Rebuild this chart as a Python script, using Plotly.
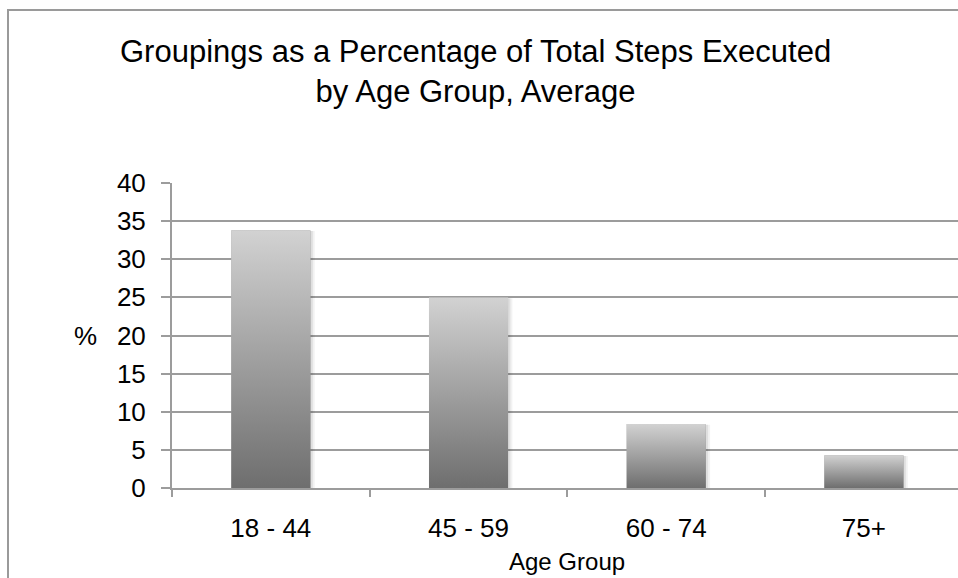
import plotly.graph_objects as go

# Average share of total steps executed, by age group (%)
age_groups = ["18 - 44", "45 - 59", "60 - 74", "75+"]
share_pct = [33.8, 25.0, 8.4, 4.3]
y_ticks = [0, 5, 10, 15, 20, 25, 30, 35, 40]

title_lines = ["Groupings as a Percentage of Total Steps Executed", "by Age Group, Average"]
x_title = "Age Group"
y_title = "%"

W, H = 958, 578
ML, MR, MT, MB = 172, 0, 183, 90
PW, PH = W - ML - MR, H - MT - MB
FONT = "Liberation Sans, Arial, sans-serif"
GRID = "#9c9c9c"
BAR_W = 0.4
X_RANGE = [-0.5, 3.476]


def px_x(px):
    return (px - ML) / PW


def px_y(py):
    return (H - MB - py) / PH


fig = go.Figure()

# Real bar trace (the gradient fill is layered on top of it)
fig.add_trace(go.Bar(
    x=age_groups, y=share_pct, width=BAR_W,
    marker=dict(color="#a2a2a2", line=dict(width=0)),
    hoverinfo="x+y", showlegend=False,
))

# Soft shadow and vertical gradient for each bar, built from the same values
for i, v in enumerate(share_pct):
    left, right = i - BAR_W / 2, i + BAR_W / 2
    for off, alpha in [(0.022, 0.05), (0.012, 0.08)]:
        fig.add_trace(go.Scatter(
            x=[left + off / 3, right + off, right + off, left + off / 3, left + off / 3],
            y=[0, 0, v - 0.1, v - 0.1, 0],
            xaxis="x2", mode="lines", fill="toself",
            fillcolor=f"rgba(0,0,0,{alpha})", line=dict(width=0),
            hoverinfo="skip", showlegend=False,
        ))
    fig.add_trace(go.Scatter(
        x=[left, right, right, left, left],
        y=[0, 0, v, v, 0],
        xaxis="x2", mode="lines", fill="toself",
        fillgradient=dict(type="vertical", start=0, stop=v,
                          colorscale=[[0, "#6e6e6e"], [1, "#d2d2d2"]]),
        line=dict(width=0),
        hoverinfo="skip", showlegend=False,
    ))

fig.update_layout(
    width=W, height=H,
    margin=dict(l=ML, r=MR, t=MT, b=MB, pad=0),
    paper_bgcolor="white", plot_bgcolor="white",
    font=dict(family=FONT, color="black", size=26),
    bargap=0.6,
    xaxis=dict(
        type="category", range=X_RANGE,
        tickson="boundaries", ticks="outside", ticklen=7, tickwidth=1.5,
        tickcolor=GRID, showline=True, linecolor=GRID, linewidth=2,
        showgrid=False, zeroline=False,
        tickfont=dict(size=26), ticklabelstandoff=16,
    ),
    xaxis2=dict(
        overlaying="x", range=X_RANGE, visible=False, showgrid=False,
        zeroline=False,
    ),
    yaxis=dict(
        range=[0, 40], tickvals=y_ticks,
        ticks="outside", ticklen=9, tickwidth=2, tickcolor=GRID,
        showline=True, linecolor=GRID, linewidth=2,
        showgrid=True, gridcolor=GRID, gridwidth=2, zeroline=False,
        tickfont=dict(size=26), ticklabelstandoff=10,
    ),
    shapes=[dict(
        type="rect", xref="paper", yref="paper",
        x0=px_x(8), x1=1.2, y0=-0.6, y1=px_y(10),
        line=dict(color="#9a9a9a", width=2), fillcolor="rgba(0,0,0,0)",
        layer="below",
    )],
    annotations=[
        dict(text="<br>".join(title_lines), xref="paper", yref="paper",
             x=px_x(475), y=px_y(32), xanchor="center", yanchor="top",
             showarrow=False, font=dict(size=31), align="center"),
        dict(text=y_title, xref="paper", yref="y",
             x=px_x(85), y=20, xanchor="center", yanchor="middle",
             showarrow=False, font=dict(size=26)),
        dict(text=x_title, xref="x2", yref="paper",
             x=1.5, y=0, xanchor="center", yanchor="bottom",
             yshift=-MB + 1, showarrow=False, font=dict(size=24)),
    ],
)

fig.write_html("out.html")
